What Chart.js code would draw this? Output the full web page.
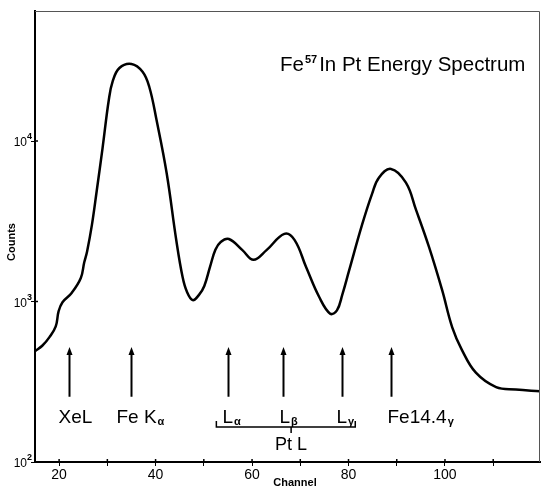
<!DOCTYPE html>
<html>
<head>
<meta charset="utf-8">
<script src="https://cdn.jsdelivr.net/npm/chart.js@4.4.0/dist/chart.umd.min.js"></script>
<style>
  html, body { margin: 0; padding: 0; background: #fff; }
  #wrap { width: 541px; height: 489px; }
</style>
</head>
<body>
<div id="wrap"><canvas id="myChart" width="541" height="489"></canvas></div>
<script>
// spectrum (channel, counts)
const channel = [15, 16.5, 18, 19.3, 19.9, 20.7, 22.6, 24.5, 25.2, 25.8, 26.8, 27.8, 29, 30.3, 31.1, 32.5,
  35, 37.3, 38.7, 40.2, 42.3, 44.3, 45.6, 46.5, 47.7, 49, 50.1, 51.3, 52.4, 53.5, 55.2, 58, 60.3, 63,
  66.7, 68.8, 71.2, 73.9, 76.2, 77.6, 78.7, 80.1, 82.8, 84.9, 86.3, 88.8, 91.9, 94, 96.7, 99.4, 101.5,
  103.5, 106.4, 110.6, 114.7, 119.7];
const counts = [490, 530, 600, 700, 870, 990, 1130, 1400, 1750, 2050, 3000, 4900, 9000, 18000, 23500, 28500,
  30200, 27000, 21700, 13500, 6300, 2400, 1420, 1150, 1020, 1100, 1250, 1650, 2100, 2350, 2450, 2090, 1820, 2090,
  2640, 2420, 1640, 1070, 840, 880, 1100, 1550, 3000, 4700, 5900, 6700, 5500, 3720, 2180, 1180, 690,
  500, 360, 293, 283, 276];

const xTicks = [20, 30, 40, 50, 60, 70, 80, 90, 100, 110];
const xLabels = [20, 40, 60, 80, 100];
const yTicks = [100, 1000, 10000];

// peak markers
const peakChannels = [22, 35, 55, 66.5, 78.7, 88.8];
const peakNames = ['XeL', 'Fe K', 'L', 'L', 'L', 'Fe14.4'];
const peakSubs = ['', 'α', 'α', 'β', 'γ', 'γ'];
const peakShift = [-11, -15, -6, -4, -6, -4];
const arrowCounts = [255, 520];
const ptLRange = [52.6, 81.4, 68.1];

const FONT = '"Liberation Sans", Arial, sans-serif';

const decor = {
  id: 'decor',
  afterDraw(chart) {
    const ctx = chart.ctx;
    const a = chart.chartArea;
    const xs = chart.scales.x, ys = chart.scales.y;
    ctx.save();
    // frame top/right
    ctx.strokeStyle = '#555';
    ctx.lineWidth = 1;
    ctx.beginPath();
    ctx.moveTo(a.left, a.top + 0.5);
    ctx.lineTo(a.right - 0.5, a.top + 0.5);
    ctx.lineTo(a.right - 0.5, a.bottom);
    ctx.stroke();

    // short inner half of the tick marks
    ctx.strokeStyle = '#000';
    ctx.lineWidth = 1.5;
    ctx.beginPath();
    xTicks.forEach(v => {
      const px = xs.getPixelForValue(v);
      ctx.moveTo(px, a.bottom);
      ctx.lineTo(px, a.bottom - 3);
    });
    yTicks.forEach(v => {
      const py = ys.getPixelForValue(v);
      ctx.moveTo(a.left, py);
      ctx.lineTo(a.left + 3, py);
    });
    ctx.stroke();

    // y tick labels: 10 with exponent
    ctx.fillStyle = '#000';
    ctx.textBaseline = 'alphabetic';
    yTicks.forEach(v => {
      const py = ys.getPixelForValue(v);
      ctx.font = '12px ' + FONT;
      ctx.textAlign = 'right';
      ctx.fillText('10', a.left - 8, py + 5);
      ctx.font = 'bold 9px ' + FONT;
      ctx.textAlign = 'left';
      ctx.fillText(String(Math.round(Math.log10(v))), a.left - 8, py - 2);
    });

    // arrows and labels
    const yTop = ys.getPixelForValue(arrowCounts[1]);
    const yBot = ys.getPixelForValue(arrowCounts[0]);
    peakChannels.forEach((c, i) => {
      const px = Math.round(xs.getPixelForValue(c)) + 0.5;
      ctx.lineWidth = 2;
      ctx.beginPath();
      ctx.moveTo(px, yBot);
      ctx.lineTo(px, yTop + 6);
      ctx.stroke();
      ctx.beginPath();
      ctx.moveTo(px, yTop);
      ctx.lineTo(px - 3, yTop + 8);
      ctx.lineTo(px + 3, yTop + 8);
      ctx.closePath();
      ctx.fill();

      ctx.font = '19px ' + FONT;
      ctx.textAlign = 'left';
      const lx = px + peakShift[i];
      ctx.fillText(peakNames[i], lx, 423);
      const w = ctx.measureText(peakNames[i]).width;
      ctx.font = 'bold 11px ' + FONT;
      ctx.fillText(peakSubs[i], lx + w + 1, 425);
    });

    // Pt L bracket
    const b0 = xs.getPixelForValue(ptLRange[0]);
    const b1 = xs.getPixelForValue(ptLRange[1]);
    const bm = xs.getPixelForValue(ptLRange[2]);
    ctx.lineWidth = 1.5;
    ctx.beginPath();
    ctx.moveTo(b0, 421);
    ctx.lineTo(b0, 427);
    ctx.lineTo(b1, 427);
    ctx.lineTo(b1, 421);
    ctx.moveTo(bm, 427);
    ctx.lineTo(bm, 433);
    ctx.stroke();
    ctx.font = '18px ' + FONT;
    ctx.textAlign = 'center';
    ctx.fillText('Pt L', bm, 450);

    // title
    ctx.textAlign = 'left';
    ctx.font = '20.5px ' + FONT;
    let tx = 280;
    ctx.fillText('Fe', tx, 71);
    tx += ctx.measureText('Fe').width + 1;
    ctx.font = 'bold 11px ' + FONT;
    ctx.fillText('57', tx, 63);
    tx += ctx.measureText('57').width + 2;
    ctx.font = '20.5px ' + FONT;
    ctx.fillText('In Pt Energy Spectrum', tx, 71);

    // axis titles
    ctx.font = 'bold 11px ' + FONT;
    ctx.textAlign = 'center';
    ctx.textBaseline = 'middle';
    ctx.fillText('Channel', 295, 483);
    ctx.translate(12, 242);
    ctx.rotate(-Math.PI / 2);
    ctx.fillText('Counts', 0, 0);
    ctx.restore();
  }
};

const ctx = document.getElementById('myChart').getContext('2d');
new Chart(ctx, {
  type: 'line',
  data: {
    datasets: [{
      label: 'Fe57 in Pt',
      data: channel.map((c, i) => ({ x: c, y: counts[i] })),
      borderColor: '#000',
      borderWidth: 2.5,
      pointRadius: 0,
      fill: false,
      tension: 0.4
    }]
  },
  options: {
    responsive: false,
    animation: false,
    devicePixelRatio: 1,
    layout: { padding: { top: 11, right: 1, left: 0, bottom: 0 } },
    plugins: { legend: { display: false }, tooltip: { enabled: false } },
    scales: {
      x: {
        type: 'linear',
        min: 15,
        max: 119.7,
        afterBuildTicks: s => { s.ticks = xTicks.map(v => ({ value: v })); },
        afterFit: s => { s.height = 27; },
        ticks: {
          autoSkip: false,
          maxRotation: 0,
          padding: 1,
          color: '#000',
          font: { family: FONT, size: 14 },
          callback: v => xLabels.includes(v) ? String(v) : ''
        },
        grid: { drawOnChartArea: false, color: '#000', tickLength: 4 },
        border: { color: '#000', width: 2 }
      },
      y: {
        type: 'logarithmic',
        min: 100,
        max: 64565,
        afterBuildTicks: s => { s.ticks = yTicks.map(v => ({ value: v })); },
        afterFit: s => { s.width = 35; },
        ticks: {
          padding: 1,
          callback: () => ''
        },
        grid: { drawOnChartArea: false, color: '#000', tickLength: 4 },
        border: { color: '#000', width: 2 }
      }
    }
  },
  plugins: [decor]
});
</script>
</body>
</html>
